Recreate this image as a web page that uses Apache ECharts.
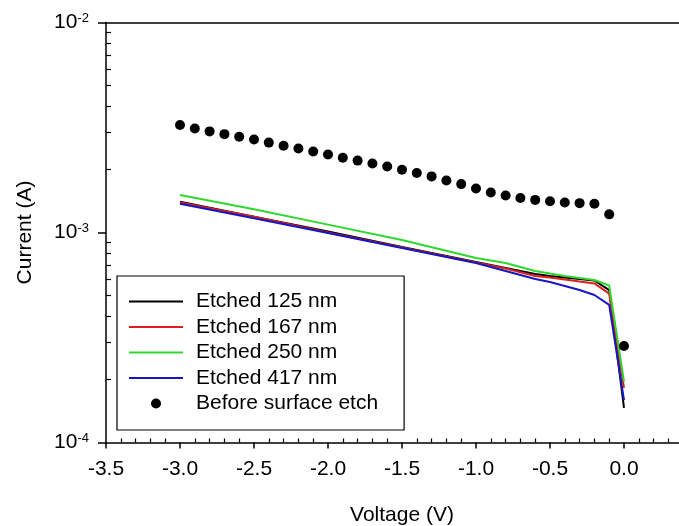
<!DOCTYPE html>
<html>
<head>
<meta charset="utf-8">
<script src="https://cdn.jsdelivr.net/npm/echarts@6/dist/echarts.min.js"></script>
<style>
  html, body { margin: 0; padding: 0; background: #fff; overflow: hidden; }
  #chart { width: 679px; height: 526px; }
</style>
</head>
<body>
<div id="chart"></div>
<script>
// I-V sweeps after successive surface etches (A, log scale) vs bias (V)
const lineVoltage = [-3.0, -2.5, -2.0, -1.5, -1.0, -0.8, -0.6, -0.5, -0.4, -0.3, -0.2, -0.1, 0.0];
const etched125 = [1.40e-3, 1.19e-3, 1.01e-3, 8.53e-4, 7.24e-4, 6.78e-4, 6.35e-4, 6.21e-4, 6.10e-4, 6.01e-4, 5.91e-4, 5.32e-4, 1.46e-4];
const etched167 = [1.39e-3, 1.19e-3, 1.00e-3, 8.48e-4, 7.20e-4, 6.74e-4, 6.21e-4, 6.10e-4, 5.97e-4, 5.84e-4, 5.72e-4, 5.12e-4, 1.82e-4];
const etched250 = [1.51e-3, 1.29e-3, 1.09e-3, 9.21e-4, 7.56e-4, 7.16e-4, 6.56e-4, 6.38e-4, 6.21e-4, 6.07e-4, 5.94e-4, 5.59e-4, 1.95e-4];
const etched417 = [1.37e-3, 1.17e-3, 9.94e-4, 8.44e-4, 7.16e-4, 6.56e-4, 6.01e-4, 5.81e-4, 5.56e-4, 5.32e-4, 5.04e-4, 4.52e-4, 1.59e-4];

// Measurement before the surface etch
const dotVoltage = [-3.0, -2.9, -2.8, -2.7, -2.6, -2.5, -2.4, -2.3, -2.2, -2.1,
                    -2.0, -1.9, -1.8, -1.7, -1.6, -1.5, -1.4, -1.3, -1.2, -1.1,
                    -1.0, -0.9, -0.8, -0.7, -0.6, -0.5, -0.4, -0.3, -0.2, -0.1, 0.0];
const beforeEtch = [3.25e-3, 3.13e-3, 3.03e-3, 2.94e-3, 2.86e-3, 2.77e-3, 2.68e-3, 2.59e-3, 2.51e-3, 2.43e-3,
                    2.35e-3, 2.27e-3, 2.20e-3, 2.13e-3, 2.06e-3, 1.99e-3, 1.92e-3, 1.85e-3, 1.77e-3, 1.70e-3,
                    1.62e-3, 1.55e-3, 1.50e-3, 1.46e-3, 1.43e-3, 1.41e-3, 1.39e-3, 1.38e-3, 1.37e-3, 1.22e-3, 2.88e-4];

const seriesNames = ['Etched 125 nm', 'Etched 167 nm', 'Etched 250 nm', 'Etched 417 nm', 'Before surface etch'];
const lineColors = ['#000000', '#dd1f1f', '#2ed82e', '#1616c4'];

// log-decade minor tick positions (mantissa 2..9 in each decade)
const minorMantissas = [2, 3, 4, 5, 6, 7, 8, 9];
const decadeExponents = [-4, -3];

const FONT = "'Liberation Sans', Arial, sans-serif";

const zip = (xs, ys) => xs.map((x, i) => [x, ys[i]]);
const minorLogTicks = decadeExponents.flatMap(d => minorMantissas.map(m => d + Math.log10(m)));

const lineSets = [etched125, etched167, etched250, etched417];

// thin bar used as the legend key for the line series
const LINE_KEY = 'path://M0,0H54V2H0Z';

const chart = echarts.init(document.getElementById('chart'), null, { renderer: 'canvas' });

const axisLineStyle = { color: '#000', width: 1.5 };

chart.setOption({
  animation: false,
  backgroundColor: '#fff',
  textStyle: { fontFamily: FONT, color: '#000' },
  // plot runs past the right edge of the canvas: 0.5 V sits just outside
  grid: { left: 106, top: 22.5, width: 592, height: 420, containLabel: false, outerBoundsMode: 'none' },
  legend: {
    orient: 'vertical',
    left: 117,
    top: 276,
    padding: [15, 26, 16, 12],
    itemWidth: 54,
    itemHeight: 10,
    itemGap: 4.5,
    symbolKeepAspect: true,
    borderColor: '#000',
    borderWidth: 1.2,
    backgroundColor: '#fff',
    textStyle: { fontFamily: FONT, fontSize: 21, color: '#000', padding: [0, 0, 0, 8] },
    data: seriesNames.map((n, i) => ({ name: n, icon: i < 4 ? LINE_KEY : 'circle' }))
  },
  xAxis: [
    {
      type: 'value', min: -3.5, max: 0.5, interval: 0.5, position: 'bottom',
      axisLine: { show: true, onZero: false, lineStyle: axisLineStyle },
      axisTick: { show: true, inside: false, length: 6, lineStyle: axisLineStyle },
      axisLabel: {
        show: true, margin: 16, fontSize: 21, color: '#000', fontFamily: FONT,
        showMaxLabel: false,
        formatter: v => v.toFixed(1)
      },
      splitLine: { show: false },
      name: 'Voltage (V)', nameLocation: 'middle', nameGap: 62,
      nameTextStyle: { fontSize: 21, color: '#000', fontFamily: FONT }
    },
    {
      type: 'value', min: -3.5, max: 0.5, interval: 0.5, position: 'bottom',
      axisLine: { show: false, onZero: false },
      axisTick: { show: false, inside: true },
      minorTick: { show: true, splitNumber: 5, length: 4, lineStyle: { color: '#000', width: 1.2 } },
      axisLabel: { show: false },
      splitLine: { show: false }
    },
    {
      type: 'value', min: -3.5, max: 0.5, position: 'top',
      axisLine: { show: true, onZero: false, lineStyle: axisLineStyle },
      axisTick: { show: false },
      axisLabel: { show: false },
      splitLine: { show: false }
    }
  ],
  yAxis: [
    {
      type: 'log', logBase: 10, min: 1e-4, max: 1e-2, splitNumber: 2, position: 'left',
      axisLine: { show: true, onZero: false, lineStyle: axisLineStyle },
      axisTick: { show: true, inside: false, length: 8, lineStyle: axisLineStyle },
      axisLabel: {
        show: true, margin: 17,
        formatter: v => '{base|10}{exp|' + Math.round(Math.log10(v)) + '}',
        rich: {
          base: { fontSize: 21, fontFamily: FONT, color: '#000' },
          exp: { fontSize: 13, fontFamily: FONT, color: '#000', verticalAlign: 'top', lineHeight: 13 }
        }
      },
      splitLine: { show: false },
      name: 'Current (A)', nameLocation: 'middle', nameGap: 70, nameRotate: 90,
      nameTextStyle: { fontSize: 21, color: '#000', fontFamily: FONT }
    },
    {
      type: 'value', min: -4, max: -2, position: 'left',
      axisLine: { show: false, onZero: false },
      axisTick: { show: true, inside: true, length: 5, customValues: minorLogTicks, lineStyle: { color: '#000', width: 1.2 } },
      axisLabel: { show: false },
      splitLine: { show: false }
    }
  ],
  series: [
    ...lineSets.map((vals, i) => ({
      name: seriesNames[i],
      type: 'line',
      xAxisIndex: 0, yAxisIndex: 0,
      data: zip(lineVoltage, vals),
      symbol: 'none',
      showSymbol: false,
      color: lineColors[i],
      lineStyle: { color: lineColors[i], width: 2 },
      z: 2 + i
    })),
    {
      name: seriesNames[4],
      type: 'scatter',
      xAxisIndex: 0, yAxisIndex: 0,
      data: zip(dotVoltage, beforeEtch),
      symbol: 'circle',
      symbolSize: 10,
      itemStyle: { color: '#000', opacity: 1 },
      z: 10
    }
  ]
});
</script>
</body>
</html>
